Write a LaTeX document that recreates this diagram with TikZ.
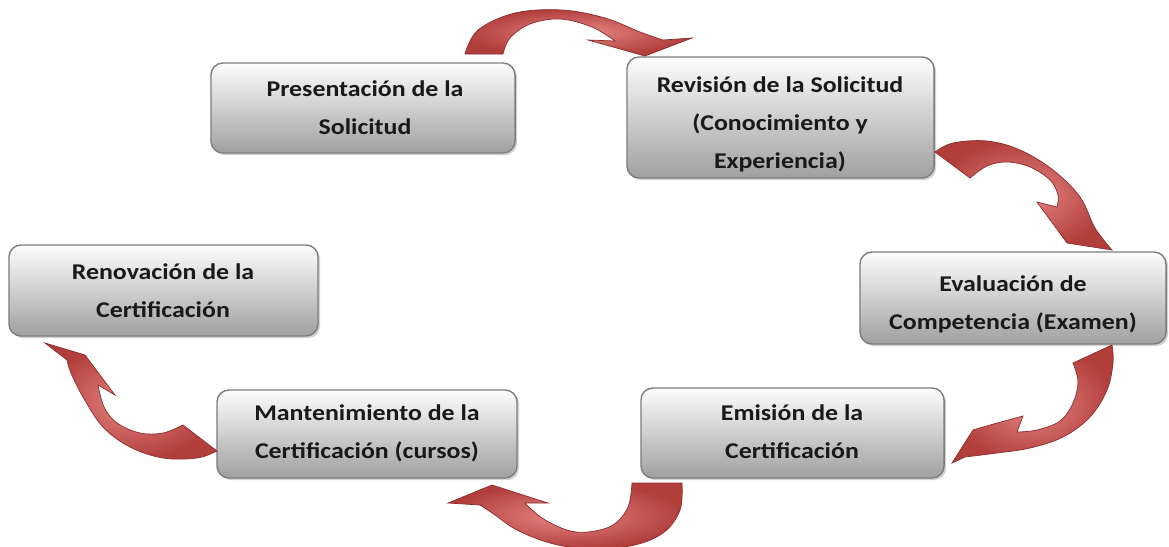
\documentclass[tikz,border=0pt]{standalone}
\usepackage{fontspec}
\setmainfont{Carlito}
\usepackage{graphicx}
\usetikzlibrary{shadows}
\definecolor{boxline}{RGB}{125,125,125}
\definecolor{boxtop}{RGB}{253,253,253}
\definecolor{boxbot}{RGB}{160,160,160}
\definecolor{arrdark}{RGB}{178,62,60}
\definecolor{arrlight}{RGB}{230,135,133}
\definecolor{arrline}{RGB}{140,45,43}
\newcommand{\btext}[1]{\scalebox{1.15}[1]{\begin{tabular}{@{}c@{}}#1\end{tabular}}}
\begin{document}
\begin{tikzpicture}[x=0.025cm,y=-0.025cm,
  stepbox/.style={draw=boxline, line width=1pt, rounded corners=0.3cm,
    top color=boxtop, bottom color=boxbot,
    drop shadow={shadow xshift=1.5pt, shadow yshift=-1.5pt, opacity=0.35},
    inner sep=0pt},
  boxlabel/.style={font=\bfseries\fontsize{16}{27}\selectfont, text=black!90, inner sep=0pt},
  arrowshape/.style={draw=arrline, line width=0.5pt, inner color=arrlight, outer color=arrdark}]
\useasboundingbox[fill=white] (0,0) rectangle (1169,546);

% boxes
\node[stepbox, minimum width=7.6cm,   minimum height=2.25cm]  (pres)  at (363,108)   {};
\node[stepbox, minimum width=7.675cm, minimum height=3.025cm] (rev)   at (780.5,117.5) {};
\node[stepbox, minimum width=7.65cm,  minimum height=2.3cm]   (eval)  at (1013,298)  {};
\node[stepbox, minimum width=7.575cm, minimum height=2.25cm]  (emis)  at (792.5,433) {};
\node[stepbox, minimum width=7.5cm,   minimum height=2.2cm]   (mant)  at (367,434)   {};
\node[stepbox, minimum width=7.725cm, minimum height=2.275cm] (renov) at (163.5,290.5) {};

% labels
\node[boxlabel] (presT)  at (365,108) {\btext{Presentación de la\\ Solicitud}};
\node[boxlabel] (revT)   at (780,123) {\btext{Revisión de la Solicitud\\ (Conocimiento y\\ Experiencia)}};
\node[boxlabel] (evalT)  at (1013,303) {\btext{Evaluación de\\ Competencia (Examen)}};
\node[boxlabel] (emisT)  at (792,432) {\btext{Emisión de la\\ Certificación}};
\node[boxlabel] (mantT)  at (367,432) {\btext{Mantenimiento de la\\ Certificación (cursos)}};
\node[boxlabel] (renovT) at (163,291) {\btext{Renovación de la\\ Certificación}};

% arrow 1: Presentacion -> Revision
\path[arrowshape] plot[smooth, tension=0.6] coordinates {(465,54) (478,30) (515,13) (562,10) (605,18) (640,32) (663,40)}
  -- (692,38) -- (645,56) -- (588,40) -- (615,41)
  -- plot[smooth, tension=0.6] coordinates {(615,41) (592,27) (560,19) (530,24) (510,38) (503,54)} -- cycle;

% arrow 2: Revision -> Evaluacion
\path[arrowshape] plot[smooth, tension=0.6] coordinates {(935,152) (953,143) (987,141) (1020,150) (1053,170) (1080,197) (1095,228) (1112,250)}
  -- (1067,243) -- (1037,202) -- (1057,207)
  -- plot[smooth, tension=0.6] coordinates {(1057,207) (1058,195) (1050,180) (1030,167) (1007,162) (987,166) (970,178)} -- cycle;

% arrow 3: Evaluacion -> Emision
\path[arrowshape] plot[smooth, tension=0.6] coordinates {(1112,345) (1113,363) (1107,390) (1090,417) (1063,437) (1030,448) (997,453) (965,457)}
  -- (952,463) -- (973,430) -- (997,423) -- (1023,416) -- (1017,432)
  -- plot[smooth, tension=0.6] coordinates {(1017,432) (1037,430) (1060,421) (1073,403) (1078,382) (1073,363)} -- cycle;

% arrow 4: Emision -> Mantenimiento
\path[arrowshape] plot[smooth, tension=0.6] coordinates {(682,483) (680,510) (663,533) (630,546) (583,548) (550,543) (517,530) (495,515) (480,505)}
  -- (448,503) -- (492,485) -- (548,503) -- (525,503)
  -- plot[smooth, tension=0.6] coordinates {(525,503) (542,518) (567,530) (588,532) (613,525) (628,507) (632,483)} -- cycle;

% arrow 5: Mantenimiento -> Renovacion
\path[arrowshape] plot[smooth, tension=0.6] coordinates {(217,451) (197,458) (163,458) (130,447) (103,427) (83,397) (71,373) (67,360)}
  -- (45,343) -- (85,355) -- (115,395) -- (98,385)
  -- plot[smooth, tension=0.6] coordinates {(98,385) (104,407) (117,423) (140,433) (163,433) (183,425)} -- cycle;
\end{tikzpicture}
\end{document}
